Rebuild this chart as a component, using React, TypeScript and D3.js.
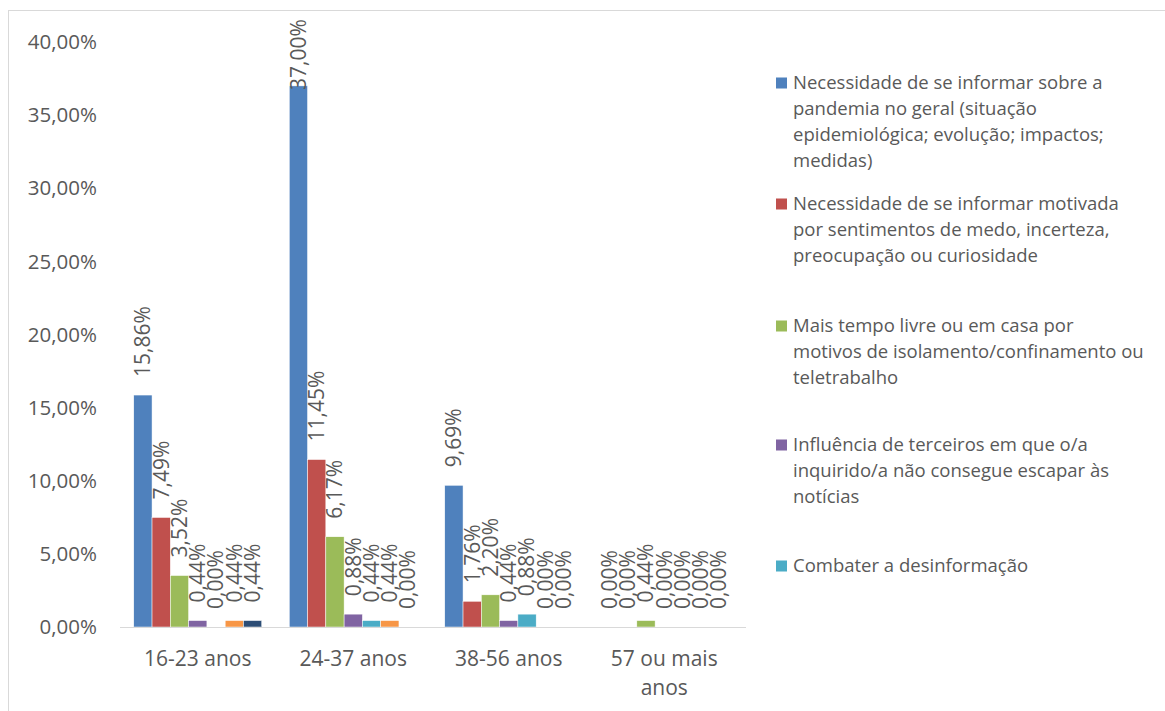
import React from "react";
import * as d3 from "d3";

const categories = ["16-23 anos", "24-37 anos", "38-56 anos", "57 ou mais anos"];
const legendLines = [
  ["Necessidade de se informar sobre a", "pandemia no geral (situação", "epidemiológica; evolução; impactos;", "medidas)"],
  ["Necessidade de se informar motivada", "por sentimentos de medo, incerteza,", "preocupação ou curiosidade"],
  ["Mais tempo livre ou em casa por", "motivos de isolamento/confinamento ou", "teletrabalho"],
  ["Influência de terceiros em que o/a", "inquirido/a não consegue escapar às", "notícias"],
  ["Combater a desinformação"],
];
const categoryLines = [["16-23 anos"], ["24-37 anos"], ["38-56 anos"], ["57 ou mais", "anos"]];
// values[series][category] in %
const s1 = [15.86, 37.0, 9.69, 0.0];
const s2 = [7.49, 11.45, 1.76, 0.0];
const s3 = [3.52, 6.17, 2.2, 0.44];
const s4 = [0.44, 0.88, 0.44, 0.0];
const s5 = [0.0, 0.44, 0.88, 0.0];
const s6 = [0.44, 0.44, 0.0, 0.0];
const s7 = [0.44, 0.0, 0.0, 0.0];
const values = [s1, s2, s3, s4, s5, s6, s7];
const colors = ["#4F81BD", "#C0504D", "#9BBB59", "#8064A2", "#4BACC6", "#F79646", "#2C4D75"];
const yTicks = [0, 5, 10, 15, 20, 25, 30, 35, 40];

const fmt = (v: number) => v.toFixed(2).replace(".", ",") + "%";
const FONT = "'Open Sans', sans-serif";
const TXT = "#595959";

export default function App() {
  const W = 1165, H = 711;
  const plotLeft = 120, plotRight = 742, plotTop = 42, plotBottom = 627;
  const x = d3.scaleBand<string>().domain(categories).range([plotLeft, plotRight]).paddingInner(0.177).paddingOuter(0.0885);
  const xs = d3.scaleBand<number>().domain(d3.range(values.length)).range([0, x.bandwidth()]);
  const y = d3.scaleLinear().domain([0, 40]).range([plotBottom, plotTop]);

  const legendY = [83, 204, 326, 445, 566];
  const lineH = 26;

  return (
    <svg width={W} height={H} style={{ position: "absolute", left: 0, top: 0 }} fontFamily={FONT}>
      <rect x={0} y={0} width={W} height={H} fill="#fff" />
      <line x1={8.5} y1={10} x2={8.5} y2={H} stroke="#d9d9d9" />
      <line x1={8} y1={10.5} x2={W} y2={10.5} stroke="#d9d9d9" />
      {yTicks.map((t) => (
        <text key={t} x={97} y={y(t)} dy="0.35em" textAnchor="end" fontSize={20.5} fill={TXT}>
          {fmt(t)}
        </text>
      ))}
      {values.map((ser, si) =>
        ser.map((v, ci) => {
          const bx = (x(categories[ci]) as number) + (xs(si) as number);
          const h = plotBottom - y(v);
          return h > 0 ? (
            <rect key={`b${si}-${ci}`} x={bx} y={y(v)} width={xs.bandwidth()} height={h} fill={colors[si]} stroke="#fff" strokeWidth={0.5} />
          ) : null;
        })
      )}
      <line x1={plotLeft} y1={plotBottom + 0.5} x2={plotRight + 4} y2={plotBottom + 0.5} stroke="#d9d9d9" strokeWidth={1.2} />
      {values.map((ser, si) =>
        ser.map((v, ci) => {
          const cx = (x(categories[ci]) as number) + (xs(si) as number) + xs.bandwidth() / 2;
          const start = Math.max(y(v) - 18, 90);
          return (
            <text key={`l${si}-${ci}`} transform={`translate(${cx},${start}) rotate(-90)`} dy="0.35em" fontSize={21} fill={TXT}>
              {fmt(v)}
            </text>
          );
        })
      )}
      {categoryLines.map((lines, ci) => (
        <text key={`c${ci}`} x={(x(categories[ci]) as number) + x.bandwidth() / 2} y={659} textAnchor="middle" fontSize={21} fill={TXT}>
          {lines.map((ln, li) => (
            <tspan key={li} x={(x(categories[ci]) as number) + x.bandwidth() / 2} dy={li === 0 ? "0.35em" : 29}>
              {ln}
            </tspan>
          ))}
        </text>
      ))}
      {legendLines.map((lines, i) => (
        <g key={`lg${i}`}>
          <rect x={776} y={legendY[i] - 5.5} width={11} height={11} fill={colors[i]} />
          {lines.map((ln, li) => (
            <text key={li} x={793} y={legendY[i] + li * lineH} dy="0.35em" fontSize={18.5} fill={TXT}>
              {ln}
            </text>
          ))}
        </g>
      ))}
    </svg>
  );
}
